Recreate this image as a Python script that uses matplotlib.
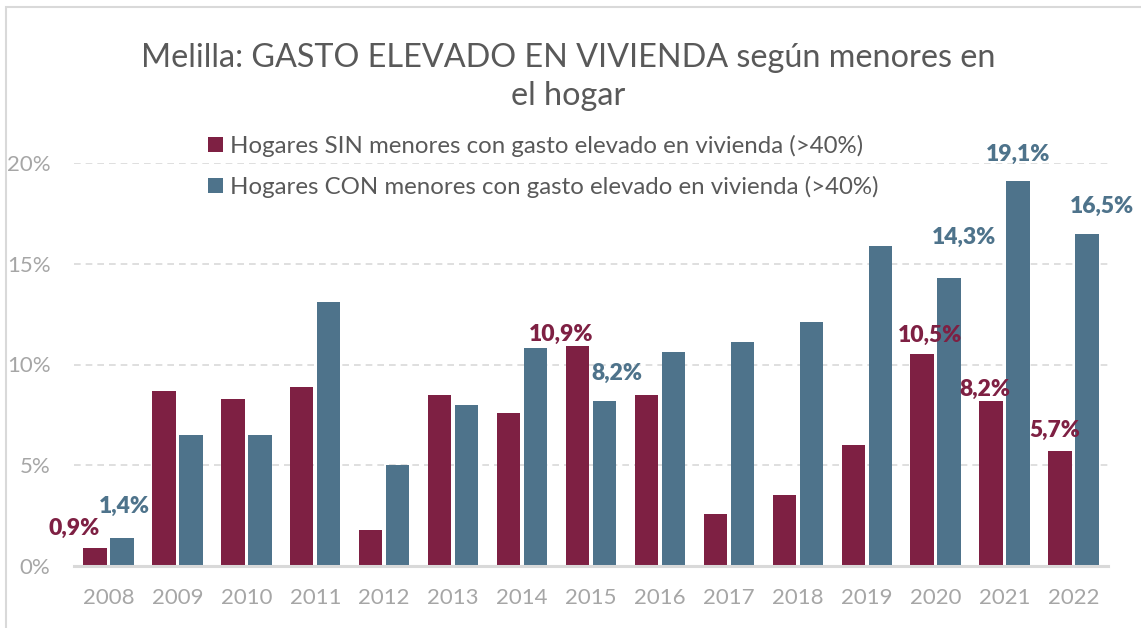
import matplotlib
matplotlib.use('Agg')
import matplotlib.pyplot as plt
import matplotlib.patches as mpatches
import numpy as np

plt.rcParams['font.family'] = ['Lato', 'DejaVu Sans']

years = ['2008', '2009', '2010', '2011', '2012', '2013', '2014', '2015',
         '2016', '2017', '2018', '2019', '2020', '2021', '2022']
sin_menores = [0.9, 8.7, 8.3, 8.9, 1.8, 8.5, 7.6, 10.9,
               8.5, 2.6, 3.5, 6.0, 10.5, 8.2, 5.7]
con_menores = [1.4, 6.5, 6.5, 13.1, 5.0, 8.0, 10.8, 8.2,
               10.6, 11.1, 12.1, 15.9, 14.3, 19.1, 16.5]
labelled_years = ['2008', '2015', '2020', '2021', '2022']
y_ticks = [0, 5, 10, 15, 20]

sin_name = 'Hogares SIN menores con gasto elevado en vivienda (>40%)'
con_name = 'Hogares CON menores con gasto elevado en vivienda (>40%)'
title = 'Melilla: GASTO ELEVADO EN VIVIENDA según menores en\nel hogar'

c_sin = '#7e2043'
c_con = '#4e738b'
grey_txt = '#595959'

# label nudges in pixels (dx, dy) from top centre of each bar
sin_off = {'2008': (-21, 19), '2015': (-16, 12), '2020': (8, 19),
           '2021': (-6, 11), '2022': (-5, 21)}
con_off = {'2008': (2, 31), '2015': (12, 27), '2020': (15, 40),
           '2021': (0, 27), '2022': (15, 27)}

fig = plt.figure(figsize=(11.41, 6.28), dpi=100)
ax = fig.add_axes([74/1141, 62/628, (1108-74)/1141, (566-163)/628])

x = np.arange(len(years))
w = 0.34
b1 = ax.bar(x - 0.196, sin_menores, w, color=c_sin, zorder=3)
b2 = ax.bar(x + 0.196, con_menores, w, color=c_con, zorder=3)

ax.set_xlim(-0.5, len(years) - 0.5)
ax.set_ylim(0, 20)
ax.set_yticks(y_ticks)
ax.set_yticklabels([f'{t}%' for t in y_ticks])
ax.set_xticks(x)
ax.set_xticklabels(years)
ax.tick_params(length=0, labelsize=16, labelcolor='#a6a6a6')
ax.tick_params(axis='x', pad=16)
ax.tick_params(axis='y', pad=17)
ax.yaxis.grid(True, linestyle=(0, (4, 3)), color='#d9d9d9', lw=1.2, zorder=0)
ax.set_axisbelow(True)
for s in ['top', 'right', 'left']:
    ax.spines[s].set_visible(False)
ax.spines['bottom'].set_color('#d9d9d9')
ax.spines['bottom'].set_linewidth(2.2)
ax.spines['bottom'].set_zorder(4)

for i, yr in enumerate(years):
    if yr in labelled_years:
        v = sin_menores[i]
        dx, dy = sin_off[yr]
        ax.annotate(f'{v:.1f}'.replace('.', ',') + '%', xy=(x[i] - 0.196, v),
                    xytext=(dx, dy), textcoords='offset pixels',
                    ha='center', va='center', fontsize=16.5, fontweight='heavy',
                    color=c_sin, annotation_clip=False, zorder=5)
        v = con_menores[i]
        dx, dy = con_off[yr]
        ax.annotate(f'{v:.1f}'.replace('.', ',') + '%', xy=(x[i] + 0.196, v),
                    xytext=(dx, dy), textcoords='offset pixels',
                    ha='center', va='center', fontsize=16.5, fontweight='heavy',
                    color=c_con, annotation_clip=False, zorder=5)

ax.legend([b1, b2], [sin_name, con_name], loc='upper left',
          bbox_to_anchor=(208/1141, 1 - 135/628), bbox_transform=fig.transFigure,
          frameon=False, fontsize=17.3, labelcolor=grey_txt,
          handlelength=0.62, handleheight=0.62, handletextpad=0.3,
          labelspacing=0.78, borderpad=0, borderaxespad=0)

fig.text(568/1141, 1 - 77/628, title, ha='center', va='center',
         fontsize=23.3, color=grey_txt, linespacing=1.35)

# chart frame (cropped on right and bottom)
fig.patches.append(mpatches.Rectangle((6/1141, -0.1), 1.2, 1.1 - 7/628,
                                      transform=fig.transFigure, fill=False,
                                      edgecolor='#d9d9d9', lw=1.5))

fig.savefig('out.png', dpi=100)
